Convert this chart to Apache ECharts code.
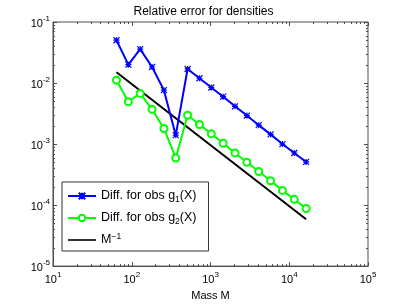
<!DOCTYPE html>
<html><head><meta charset="utf-8">
<script src="https://cdn.jsdelivr.net/npm/echarts@6/dist/echarts.min.js"></script>
<style>html,body{margin:0;padding:0;background:#fff}#c{width:407px;height:306px}</style>
</head><body><div id="c"></div>
<script>
const titleText = 'Relative error for densities';
const xName = 'Mass M';
const massM = [64, 90.5, 128, 181, 256, 362, 512, 724, 1024, 1448, 2048, 2896, 4096, 5793, 8192, 11585, 16384];
const diffG1 = [0.0503, 0.0200, 0.0360, 0.0183, 0.00764, 0.00140, 0.0170, 0.01197, 0.00845, 0.00597, 0.00415, 0.00293, 0.00204, 0.00144, 0.00100, 0.000714, 0.000509];
const diffG2 = [0.01112, 0.00494, 0.00675, 0.00371, 0.00180, 0.000592, 0.00296, 0.00209, 0.00147, 0.00103, 0.000715, 0.000504, 0.000355, 0.000250, 0.000174, 0.000124, 0.0000877];
const refM = [64, 16384];
const refVal = [0.0150, 0.0000586];
const seriesNames = ['g1', 'g2', 'ref'];
const xMajor = [10, 100, 1000, 10000, 100000];
const yMajor = [0.1, 0.01, 0.001, 0.0001, 0.00001];
const minorMult = [2, 3, 4, 5, 6, 7, 8, 9];

const xMinor = [], yMinor = [];
xMajor.slice(0, -1).forEach(d => minorMult.forEach(m => xMinor.push(d * m)));
yMajor.slice(1).forEach(d => minorMult.forEach(m => yMinor.push(d * m)));

const FONT = 'Liberation Sans, Arial, sans-serif';
const axisCol = '#4d4d4d';
const pair = (a, b) => a.map((v, i) => [v, b[i]]);
const expLabel = v => '{b|10}{e|' + Math.round(Math.log10(v)) + '}';
const labelRich = {
  b: {fontSize: 11, fontFamily: FONT, color: '#000', verticalAlign: 'bottom', lineHeight: 14},
  e: {fontSize: 8, fontFamily: FONT, color: '#000', verticalAlign: 'top', lineHeight: 14, padding: [0, 0, 6, 0]}
};

const tickItems = [];
xMinor.forEach(v => tickItems.push(['x', v, 2]));
xMajor.forEach(v => tickItems.push(['x', v, 4]));
yMinor.forEach(v => tickItems.push(['y', v, 2]));
yMajor.forEach(v => tickItems.push(['y', v, 4]));

const lineIcon = 'path://M0,0L0,0M28,8L28,8M0,3.2L28,3.2L28,4.8L0,4.8Z';

const chart = echarts.init(document.getElementById('c'));
chart.setOption({
  animation: false,
  backgroundColor: '#fff',
  title: {text: titleText, left: 'center', top: 1, textStyle: {fontSize: 12, fontWeight: 'normal', fontFamily: FONT, color: '#000'}},
  grid: {left: 53, right: 39, top: 22, bottom: 38, show: true, borderColor: axisCol, borderWidth: 1, backgroundColor: 'transparent'},
  xAxis: {
    type: 'log', logBase: 10, min: 10, max: 100000,
    name: xName, nameLocation: 'middle', nameGap: 17,
    nameTextStyle: {fontSize: 11, fontFamily: FONT, color: '#000'},
    axisLine: {lineStyle: {color: axisCol}},
    axisTick: {inside: true, length: 4, lineStyle: {color: axisCol}},
    axisLabel: {formatter: expLabel, rich: labelRich, margin: 5},
    splitLine: {show: false}, minorTick: {show: false}
  },
  yAxis: {
    type: 'log', logBase: 10, min: 0.00001, max: 0.1,
    axisLine: {lineStyle: {color: axisCol}},
    axisTick: {inside: true, length: 4, lineStyle: {color: axisCol}},
    axisLabel: {formatter: expLabel, rich: labelRich, margin: 3},
    splitLine: {show: false}, minorTick: {show: false}
  },
  legend: {
    data: [{name: 'g1'}, {name: 'g2'}, {name: 'ref', icon: lineIcon, itemStyle: {color: '#000'}}],
    orient: 'vertical', left: 62, top: 182,
    backgroundColor: '#fff', borderColor: '#333', borderWidth: 1,
    padding: [6, 12, 4, 5], itemGap: 6, itemWidth: 28, itemHeight: 8,
    formatter: n => n === 'g1' ? '{a|Diff. for obs g}{s|1}{a|(X)}' : n === 'g2' ? '{a|Diff. for obs g}{s|2}{a|(X)}' : '{a|M}{p|−1}',
    textStyle: {
      fontFamily: FONT, color: '#000',
      rich: {
        a: {fontSize: 12.5, fontFamily: FONT, color: '#000', lineHeight: 16},
        s: {fontSize: 8.5, fontFamily: FONT, color: '#000', lineHeight: 16, verticalAlign: 'bottom', padding: [7, 0, 0, 0]},
        p: {fontSize: 8.5, fontFamily: FONT, color: '#000', lineHeight: 16, verticalAlign: 'top', padding: [0, 0, 6, 0]}
      }
    }
  },
  series: [
    {
      name: 'g1', type: 'line', data: pair(massM, diffG1),
      lineStyle: {color: '#0000ff', width: 2}, itemStyle: {color: '#0000ff', borderColor: '#0000ff', borderWidth: 1.2},
      symbol: 'path://M0,0L10,10M10,0L0,10M5,0L5,10M0,5L10,5', symbolSize: 6, showSymbol: true, z: 3
    },
    {
      name: 'g2', type: 'line', data: pair(massM, diffG2),
      lineStyle: {color: '#00ff00', width: 2}, itemStyle: {color: '#00ff00', borderColor: '#00ff00', borderWidth: 1.5},
      symbol: 'emptyCircle', symbolSize: 7, z: 2
    },
    {
      name: 'ref', type: 'line', data: pair(refM, refVal),
      lineStyle: {color: '#000', width: 2}, itemStyle: {color: '#000'}, symbol: 'none', z: 1
    },
    {
      type: 'custom', silent: true, z: 5, data: tickItems,
      renderItem: (params, api) => {
        const cs = params.coordSys;
        const kind = tickItems[params.dataIndex][0];
        const v = tickItems[params.dataIndex][1];
        const len = tickItems[params.dataIndex][2];
        const st = {stroke: axisCol, lineWidth: 1};
        if (kind === 'x') {
          const px = Math.round(api.coord([v, 0.001])[0]) + 0.5;
          const children = [{type: 'line', shape: {x1: px, y1: cs.y, x2: px, y2: cs.y + len}, style: st}];
          if (len === 2) children.push({type: 'line', shape: {x1: px, y1: cs.y + cs.height, x2: px, y2: cs.y + cs.height - len}, style: st});
          return {type: 'group', children};
        } else {
          const py = Math.round(api.coord([100, v])[1]) + 0.5;
          const children = [{type: 'line', shape: {x1: cs.x + cs.width, y1: py, x2: cs.x + cs.width - len, y2: py}, style: st}];
          if (len === 2) children.push({type: 'line', shape: {x1: cs.x, y1: py, x2: cs.x + len, y2: py}, style: st});
          return {type: 'group', children};
        }
      }
    }
  ]
});
</script></body></html>
